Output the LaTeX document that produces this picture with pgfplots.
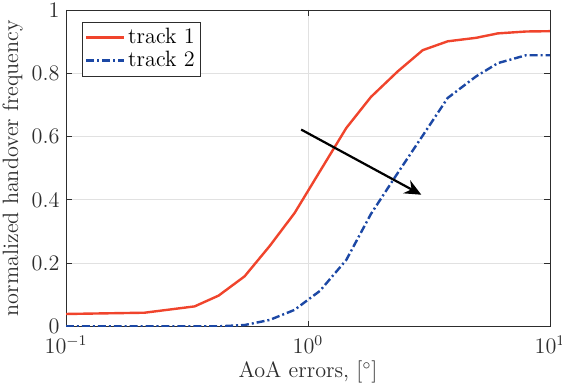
\documentclass[border=0pt]{standalone}
\usepackage{pgfplots}
\pgfplotsset{compat=1.18}
\usetikzlibrary{arrows.meta}
\definecolor{tr1}{RGB}{240,68,44}
\definecolor{tr2}{RGB}{28,72,165}
\definecolor{axc}{RGB}{45,45,45}
\definecolor{gmaj}{RGB}{225,225,225}
\definecolor{gmin}{RGB}{205,205,205}
\begin{document}
\begin{tikzpicture}
\begin{axis}[
  name=ax,
  scale only axis,
  width=261.6pt, height=171pt,
  xmode=log, xmin=0.1, xmax=10, ymin=0, ymax=1,
  log basis x=10,
  xtick={0.1,1,10},
  ytick={0,0.2,0.4,0.6,0.8,1},
  yticklabels={0,0.2,0.4,0.6,0.8,1},
  minor x tick num=8,
  tick align=inside,
  major tick length=3pt, minor tick length=1.8pt,
  axis line style={axc, line width=0.5pt},
  every tick/.style={axc, line width=0.5pt},
  tick label style={text=axc, font=\large},
  xticklabel style={yshift=-1.5pt},
  label style={text=axc, font=\large},
  xmajorgrids, ymajorgrids, xminorgrids,
  major grid style={gmaj, line width=0.5pt},
  minor grid style={gmin, dotted, line width=0.4pt},
  xlabel={AoA errors, [$^\circ$]},
  ylabel={normalized handover frequency},
  xlabel style={yshift=2.5pt},
  ylabel style={yshift=-2pt},
  legend style={at={(rel axis cs:0.033,0.963)}, anchor=north west, draw=axc, font=\large, text=black, inner sep=1.5pt, row sep=-1.5pt, legend cell align=left,
    nodes={inner xsep=1.5pt}},
  legend image code/.code={\draw[#1] (0cm,0cm) -- (0.72cm,0cm);},
]
\addplot[tr1, line width=1.3pt] coordinates {
(0.1,0.039) (0.211,0.043) (0.34,0.063) (0.427,0.097) (0.547,0.158)
(0.693,0.253) (0.88,0.358) (1.12,0.49) (1.44,0.627) (1.82,0.725)
(2.35,0.806) (2.98,0.873) (3.78,0.901) (4.95,0.912) (6.09,0.926)
(7.97,0.932) (10,0.933)
};
\addlegendentry{track 1}
\addplot[tr2, line width=1.3pt, dash pattern=on 4.3pt off 1.6pt on 1.1pt off 1.6pt] coordinates {
(0.1,0.0) (0.211,0.0) (0.34,0.0) (0.427,0.0) (0.547,0.004)
(0.693,0.02) (0.88,0.052) (1.12,0.112) (1.44,0.21) (1.82,0.355)
(2.35,0.485) (2.98,0.603) (3.78,0.722) (4.95,0.79) (6.09,0.832)
(7.97,0.857) (10,0.857)
};
\addlegendentry{track 2}
\draw[black, line width=1.2pt, -{Stealth[length=9pt, width=8pt, inset=3pt]}] (axis cs:0.937,0.622) -- (axis cs:2.94,0.416);
\end{axis}
\pgfresetboundingbox
\path ([xshift=-35.7pt,yshift=-32.2pt]ax.south west) rectangle ([xshift=6.5pt,yshift=5.4pt]ax.north east);
\end{tikzpicture}
\end{document}
